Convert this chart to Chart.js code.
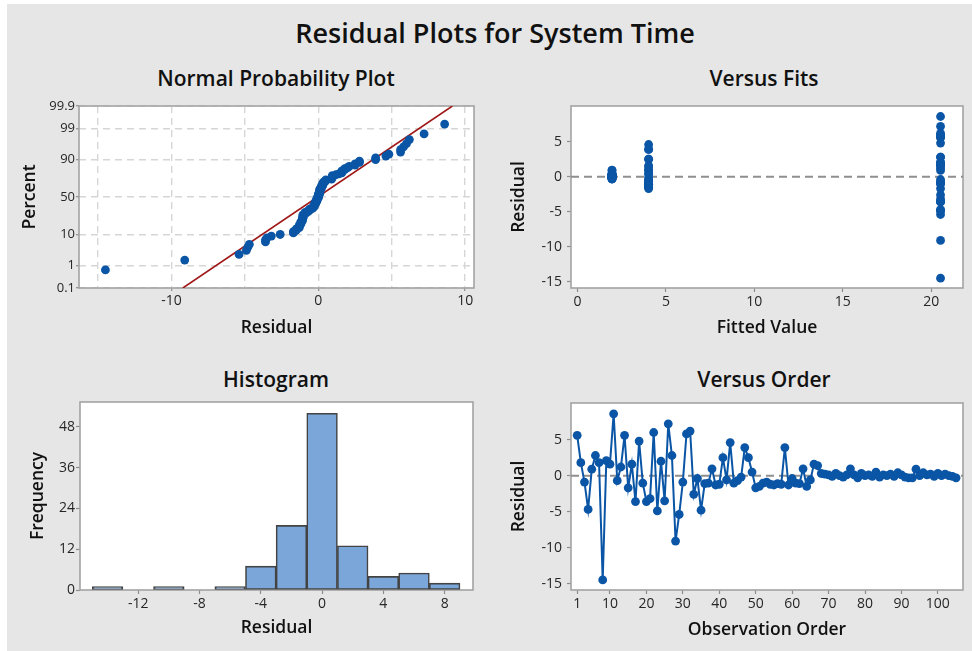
<!DOCTYPE html>
<html>
<head>
<meta charset="utf-8">
<script src="https://cdn.jsdelivr.net/npm/chart.js@4.4.1/dist/chart.umd.min.js"></script>
<style>
  html, body { margin: 0; padding: 0; background: #ffffff; width: 972px; height: 651px; overflow: hidden; }
  #panel { position: absolute; left: 7px; top: 4px; width: 965px; height: 647px; background: #e6e6e6; }
  canvas { position: absolute; }
  .ttl { position: absolute; font-family: 'Open Sans', 'Noto Sans', sans-serif; font-weight: 600;
         color: #111; white-space: nowrap; transform: translate(-50%, -50%); line-height: 1; }
</style>
</head>
<body>
<div id="panel"></div>
<div class="ttl" style="left:495px; top:32px; font-size:27px;">Residual Plots for System Time</div>
<div class="ttl" style="left:276px; top:78px; font-size:21px;">Normal Probability Plot</div>
<div class="ttl" style="left:764px; top:78px; font-size:21px;">Versus Fits</div>
<div class="ttl" style="left:276px; top:379px; font-size:21px;">Histogram</div>
<div class="ttl" style="left:764px; top:379px; font-size:21px;">Versus Order</div>

<canvas id="cProb"  width="472" height="290" style="left:8px;   top:60px;"></canvas>
<canvas id="cFits"  width="482" height="290" style="left:490px; top:60px;"></canvas>
<canvas id="cHist"  width="472" height="290" style="left:8px;   top:360px;"></canvas>
<canvas id="cOrder" width="482" height="290" style="left:490px; top:360px;"></canvas>

<script>
// Residuals of System Time, in observation order
const residuals = [
   5.6,  1.8, -0.9, -4.7,  0.9,  2.8,  1.8, -14.5,  2.1,  1.6,
   8.6, -0.7,  1.2,  5.6, -1.7,  1.6, -3.6,  4.8, -1.05, -3.6,
  -3.2,  6.0, -4.9,  2.0, -3.5,  7.2,  2.8, -9.1, -5.4, -0.9,
   5.8,  6.2, -2.6, -0.4, -4.8, -1.1, -1.05, 0.95, -1.3, -1.2,
   2.5, -0.6,  4.6, -1.05, -0.7, -0.2,  3.9,  2.5,  0.5, -1.7,
  -1.5, -1.05, -0.9, -1.2, -1.3, -1.1, -1.2,  3.9, -1.3, -0.4,
  -1.05, -1.1, 0.95, -1.5, -0.6,  1.6,  1.4,  0.3,  0.2,  0.1,
  -0.1,  0.3,  0.0, -0.2,  0.1,  0.95, 0.1, -0.3,  0.3,  0.0,
   0.1, -0.1,  0.5, -0.2,  0.1,  0.0,  0.2, -0.1,  0.4,  0.1,
  -0.2, -0.3, -0.3,  0.9,  0.0,  0.4,  0.1,  0.2, -0.1,  0.3,
   0.0,  0.2,  0.0, -0.1, -0.3
];

// Fitted value of each observation
const fittedValues = [
  20.53, 20.53, 20.53, 20.53, 20.53, 20.53, 20.53, 20.53, 20.53, 20.53,
  20.53, 20.53, 20.53, 20.53, 20.53, 20.53, 20.53, 20.53, 20.53, 20.53,
  20.53, 20.53, 20.53, 20.53, 20.53, 20.53, 20.53, 20.53, 20.53, 20.53,
  20.53, 20.53, 20.53, 20.53, 20.53,  4.02,  4.02,  4.02,  4.02,  4.02,
   4.02,  4.02,  4.02,  4.02,  4.02,  4.02,  4.02,  4.02,  4.02,  4.02,
   4.02,  4.02,  4.02,  4.02,  4.02,  4.02,  4.02,  4.02,  4.02,  4.02,
   4.02,  4.02,  4.02,  4.02,  4.02,  4.02,  4.02,  4.02,  1.95,  1.95,
   1.95,  1.95,  1.95,  1.95,  1.95,  1.95,  1.95,  1.95,  1.95,  1.95,
   1.95,  1.95,  1.95,  1.95,  1.95,  1.95,  1.95,  1.95,  1.95,  1.95,
   1.95,  1.95,  1.95,  1.95,  1.95,  1.95,  1.95,  1.95,  1.95,  1.95,
   1.95,  1.95,  1.95,  1.95,  1.95
];

// Histogram bins (centre of each 2-wide bin) and their frequencies
const binCenters = [-14, -12, -10, -8, -6, -4, -2, 0, 2, 4, 6, 8];
const binCounts  = [  1,   0,   1,  0,  1,  7, 19, 52, 13, 4, 5, 2];

// Reference normal line (mean and standard deviation of the residuals)
const lineMean = -0.05;
const lineSd = 2.97;

// Tick positions
const probPercentTicks = [0.1, 1, 10, 50, 90, 99, 99.9];
const probXTicks   = [-15, -10, -5, 0, 5, 10];
const fitsXTicks   = [0, 5, 10, 15, 20];
const residualTicks = [-15, -10, -5, 0, 5];
const histXTicks   = [-12, -8, -4, 0, 4, 8];
const histYTicks   = [0, 12, 24, 36, 48];
const orderTicks   = [1, 10, 20, 30, 40, 50, 60, 70, 80, 90, 100];

// ---------------------------------------------------------------
const FONT = "'Open Sans', 'Noto Sans', sans-serif";
const BLUE = '#0a55a5';
const TICK_COLOR = '#262626';
const TITLE_COLOR = '#111111';
const TICK_MARK = '#8c8c8c';
const FRAME = '#a3a3a3';
const AXIS_TITLE_SIZE = 17.5;

// Inverse of the standard normal CDF (Acklam's rational approximation)
function probit(p) {
  const a = [-3.969683028665376e+01, 2.209460984245205e+02, -2.759285104469687e+02,
              1.383577518672690e+02, -3.066479806614716e+01, 2.506628277459239e+00];
  const b = [-5.447609879822406e+01, 1.615858368580409e+02, -1.556989798598866e+02,
              6.680131188771972e+01, -1.328068155288572e+01];
  const c = [-7.784894002430293e-03, -3.223964580411365e-01, -2.400758277161838e+00,
             -2.549732539343734e+00, 4.374664141464968e+00, 2.938163982698783e+00];
  const d = [7.784695709041462e-03, 3.224671290700398e-01, 2.445134137142996e+00,
             3.754408661907416e+00];
  const pl = 0.02425, ph = 1 - pl;
  let q, r;
  if (p < pl) {
    q = Math.sqrt(-2 * Math.log(p));
    return (((((c[0]*q + c[1])*q + c[2])*q + c[3])*q + c[4])*q + c[5]) /
           ((((d[0]*q + d[1])*q + d[2])*q + d[3])*q + 1);
  }
  if (p <= ph) {
    q = p - 0.5; r = q * q;
    return (((((a[0]*r + a[1])*r + a[2])*r + a[3])*r + a[4])*r + a[5]) * q /
           (((((b[0]*r + b[1])*r + b[2])*r + b[3])*r + b[4])*r + 1);
  }
  q = Math.sqrt(-2 * Math.log(1 - p));
  return -(((((c[0]*q + c[1])*q + c[2])*q + c[3])*q + c[4])*q + c[5]) /
          ((((d[0]*q + d[1])*q + d[2])*q + d[3])*q + 1);
}

// White plot area and grey frame around it
const framePlugin = {
  id: 'frame',
  beforeDraw(chart) {
    const { ctx, chartArea: a } = chart;
    ctx.save();
    ctx.fillStyle = '#ffffff';
    ctx.fillRect(a.left, a.top, a.right - a.left, a.bottom - a.top);
    ctx.restore();
  },
  beforeDatasetsDraw(chart) {
    const { ctx, chartArea: a } = chart;
    ctx.save();
    ctx.strokeStyle = FRAME;
    ctx.lineWidth = 1.6;
    ctx.strokeRect(a.left, a.top, a.right - a.left, a.bottom - a.top);
    ctx.restore();
  }
};

// Dashed reference line at residual = 0
const zeroLinePlugin = {
  id: 'zeroLine',
  beforeDatasetsDraw(chart) {
    const { ctx, chartArea: a } = chart;
    const y = chart.scales.y.getPixelForValue(0);
    ctx.save();
    ctx.strokeStyle = '#8f8f8f';
    ctx.lineWidth = 2;
    ctx.setLineDash([8, 5]);
    ctx.beginPath();
    ctx.moveTo(a.left, y);
    ctx.lineTo(a.right, y);
    ctx.stroke();
    ctx.restore();
  }
};

function tickFont(size) { return { family: FONT, size: size || 14 }; }
function titleFont() { return { family: FONT, size: AXIS_TITLE_SIZE, weight: '600' }; }

function xAxis(cfg) {
  return {
    type: 'linear',
    min: cfg.min, max: cfg.max,
    offset: false,
    afterBuildTicks: s => { s.ticks = cfg.ticks.map(v => ({ value: v })); },
    afterFit: s => { s.height = cfg.height; s.paddingLeft = 0; s.paddingRight = 0; },
    ticks: {
      autoSkip: false, maxRotation: 0, minRotation: 0, padding: 2,
      font: tickFont(14), color: TICK_COLOR,
      callback: cfg.label || (v => String(v))
    },
    grid: Object.assign({
      drawOnChartArea: false, drawTicks: true, tickLength: 4,
      tickColor: TICK_MARK, tickWidth: 1.2, tickBorderDash: [], offset: false
    }, cfg.grid || {}),
    border: Object.assign({ display: false }, cfg.border || {}),
    title: {
      display: true, text: cfg.title, font: titleFont(), color: TITLE_COLOR,
      padding: { top: 0, bottom: cfg.titlePad }
    }
  };
}

function yAxis(cfg) {
  return {
    type: 'linear',
    min: cfg.min, max: cfg.max,
    afterBuildTicks: s => { s.ticks = cfg.ticks.map(v => ({ value: v })); },
    afterFit: s => { s.width = cfg.width; s.paddingTop = 0; s.paddingBottom = 0; },
    ticks: {
      autoSkip: false, padding: cfg.tickPad,
      font: tickFont(cfg.fontSize || 14), color: TICK_COLOR,
      callback: cfg.label || (v => String(v))
    },
    grid: Object.assign({
      drawOnChartArea: false, drawTicks: true, tickLength: cfg.tickLength || 4,
      tickColor: TICK_MARK, tickWidth: 1.2, tickBorderDash: []
    }, cfg.grid || {}),
    border: Object.assign({ display: false }, cfg.border || {}),
    title: {
      display: true, text: cfg.title, font: titleFont(), color: TITLE_COLOR,
      padding: { top: cfg.titlePad, bottom: 0 }
    }
  };
}

function baseOptions(padding, scales) {
  return {
    responsive: false, animation: false, devicePixelRatio: 1,
    layout: { padding: padding },
    plugins: { legend: { display: false }, tooltip: { enabled: false } },
    scales: scales
  };
}

function draw() {
  const n = residuals.length;

  // ---------- Normal probability plot ----------
  const zLo = probit(0.001), zHi = probit(0.999);
  const sorted = residuals.slice().sort((p, q) => p - q);
  const probPoints = sorted.map((r, i) => ({ x: r, y: probit((i + 1 - 0.3) / (n + 0.4)) }));
  const fitLine = [
    { x: lineMean + lineSd * zLo, y: zLo },
    { x: lineMean + lineSd * zHi, y: zHi }
  ];
  const dashedGrid = { drawOnChartArea: true, color: '#d6d6d6', lineWidth: 1.4 };
  const dashedBorder = { display: false, dash: [7, 5] };

  new Chart(document.getElementById('cProb'), {
    type: 'scatter',
    data: {
      datasets: [
        { type: 'line', data: fitLine, borderColor: '#a01818', borderWidth: 1.6,
          pointRadius: 0, fill: false, order: 2 },
        { data: probPoints, backgroundColor: BLUE, borderWidth: 0,
          pointRadius: 4.4, order: 1 }
      ]
    },
    options: baseOptions({ left: 0, top: 46, right: 6, bottom: 0 }, {
      x: xAxis({
        min: -16.3, max: 10.6, ticks: probXTicks, height: 62, title: 'Residual', titlePad: 11.5,
        label: v => (v % 10 === 0 ? String(v) : ''),
        grid: Object.assign({}, dashedGrid, {
          tickLength: 3,
          tickColor: ctx => (ctx.tick && ctx.tick.value % 10 === 0) ? TICK_MARK : 'rgba(0,0,0,0)'
        }),
        border: dashedBorder
      }),
      y: yAxis({
        min: zLo, max: zHi, width: 71, tickPad: 1, tickLength: 3, fontSize: 13,
        ticks: probPercentTicks.map(p => probit(p / 100)),
        label: (v, i) => String(probPercentTicks[i]),
        title: 'Percent', titlePad: 11.5,
        grid: dashedGrid, border: dashedBorder
      })
    }),
    plugins: [framePlugin]
  });

  // ---------- Versus fits ----------
  new Chart(document.getElementById('cFits'), {
    type: 'scatter',
    data: {
      datasets: [{
        data: residuals.map((r, i) => ({ x: fittedValues[i], y: r })),
        backgroundColor: BLUE, borderWidth: 0, pointRadius: 4.4
      }]
    },
    options: baseOptions({ left: 0, top: 46, right: 9, bottom: 0 }, {
      x: xAxis({ min: -0.37, max: 21.8, ticks: fitsXTicks, height: 62,
                 title: 'Fitted Value', titlePad: 11.5 }),
      y: yAxis({ min: -15.9, max: 10.1, ticks: residualTicks, width: 81, tickPad: 5,
                 title: 'Residual', titlePad: 18.8 })
    }),
    plugins: [framePlugin, zeroLinePlugin]
  });

  // ---------- Histogram ----------
  new Chart(document.getElementById('cHist'), {
    type: 'bar',
    data: {
      datasets: [{
        data: binCenters.map((c, i) => ({ x: c, y: binCounts[i] })),
        backgroundColor: '#7ba6d9', borderColor: '#434343', borderWidth: 1.6,
        borderSkipped: false, barPercentage: 1, categoryPercentage: 1, grouped: false
      }]
    },
    options: baseOptions({ left: 0, top: 42, right: 7, bottom: 0 }, {
      x: xAxis({ min: -15.8, max: 9.85, ticks: histXTicks, height: 60,
                 title: 'Residual', titlePad: 11.2 }),
      y: yAxis({ min: 0, max: 55.3, ticks: histYTicks, width: 72, tickPad: 1,
                 title: 'Frequency', titlePad: 19.8 })
    }),
    plugins: [framePlugin]
  });

  // ---------- Versus order ----------
  new Chart(document.getElementById('cOrder'), {
    type: 'line',
    data: {
      datasets: [{
        data: residuals.map((r, i) => ({ x: i + 1, y: r })),
        borderColor: BLUE, borderWidth: 2, backgroundColor: BLUE,
        pointRadius: 4.4, pointBorderWidth: 0, tension: 0, fill: false
      }]
    },
    options: baseOptions({ left: 0, top: 43, right: 9, bottom: 0 }, {
      x: xAxis({ min: -0.7, max: 106.9, ticks: orderTicks, height: 60,
                 title: 'Observation Order', titlePad: 9.5 }),
      y: yAxis({ min: -15.9, max: 10.1, ticks: residualTicks, width: 81, tickPad: 5,
                 title: 'Residual', titlePad: 18.8 })
    }),
    plugins: [framePlugin, zeroLinePlugin]
  });
}

const fontsReady = document.fonts
  ? Promise.all([
      document.fonts.load("14px 'Open Sans'"),
      document.fonts.load("600 17px 'Open Sans'")
    ]).catch(() => null)
  : Promise.resolve();
fontsReady.then(draw);
</script>
</body>
</html>
